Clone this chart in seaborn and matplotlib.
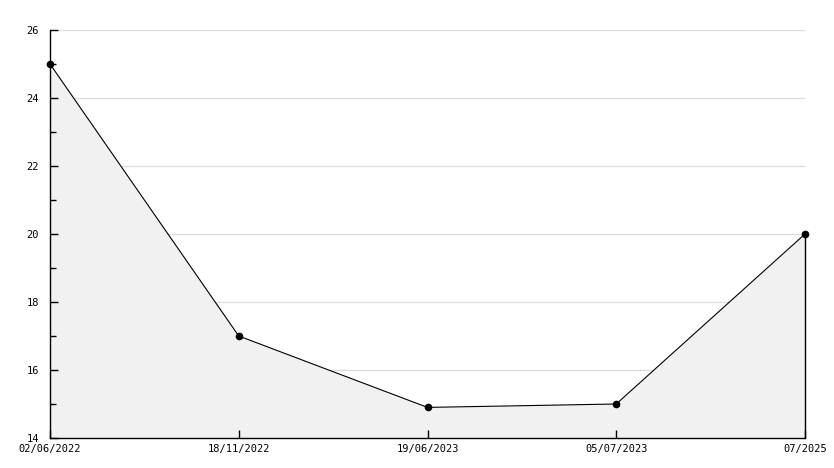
import matplotlib
matplotlib.use("Agg")
import matplotlib.pyplot as plt
import seaborn as sns
import pandas as pd
from matplotlib.ticker import MultipleLocator

dates = ["02/06/2022", "18/11/2022", "19/06/2023", "05/07/2023", "07/2025"]
values = [25, 17, 14.9, 15, 20]
y_ticks = [14, 16, 18, 20, 22, 24, 26]

sns.set_style("white")
plt.rcParams['font.family'] = ['DejaVu Sans Mono']

df = pd.DataFrame({"pos": list(range(len(dates))), "value": values})

fig = plt.figure(figsize=(8.34, 4.68), dpi=100)
ax = fig.add_axes([50/834, 30/468, 755/834, 408/468])

ax.fill_between(df["pos"], df["value"], 14, color="#f1f1f1", zorder=1, linewidth=0)
for yt in y_ticks[1:]:
    ax.axhline(yt, color="#dcdcdc", linewidth=0.9, zorder=0.5)
sns.lineplot(data=df, x="pos", y="value", ax=ax, color="black", linewidth=0.8,
             marker="o", markersize=5.5, markeredgewidth=0, zorder=5, clip_on=False)
ax.plot([df["pos"].iloc[-1]] * 2, [14, values[-1]], color="black", linewidth=1.0,
        zorder=2, clip_on=False)

ax.set_xlim(0, len(dates) - 1)
ax.set_ylim(14, 26)
ax.set_xticks(df["pos"])
ax.set_xticklabels(dates)
ax.set_yticks(y_ticks)
ax.yaxis.set_minor_locator(MultipleLocator(1))
ax.set_xlabel("")
ax.set_ylabel("")
ax.grid(False)

for s in ["top", "right"]:
    ax.spines[s].set_visible(False)
for s in ["left", "bottom"]:
    ax.spines[s].set_color("black")
    ax.spines[s].set_linewidth(1.0)
    ax.spines[s].set_zorder(4)

ax.tick_params(axis="both", which="both", left=True, bottom=True)
ax.tick_params(axis="both", which="major", direction="in", length=6, width=1.0,
               color="black", labelsize=7.5, labelcolor="black")
ax.tick_params(axis="y", which="minor", direction="in", length=4, width=1.0, color="black")
ax.tick_params(axis="y", which="major", pad=8)
ax.tick_params(axis="x", which="major", pad=4)
ax.xaxis.set_zorder(4)
ax.yaxis.set_zorder(4)
ax.set_facecolor("white")

fig.savefig("out.png", dpi=100)
